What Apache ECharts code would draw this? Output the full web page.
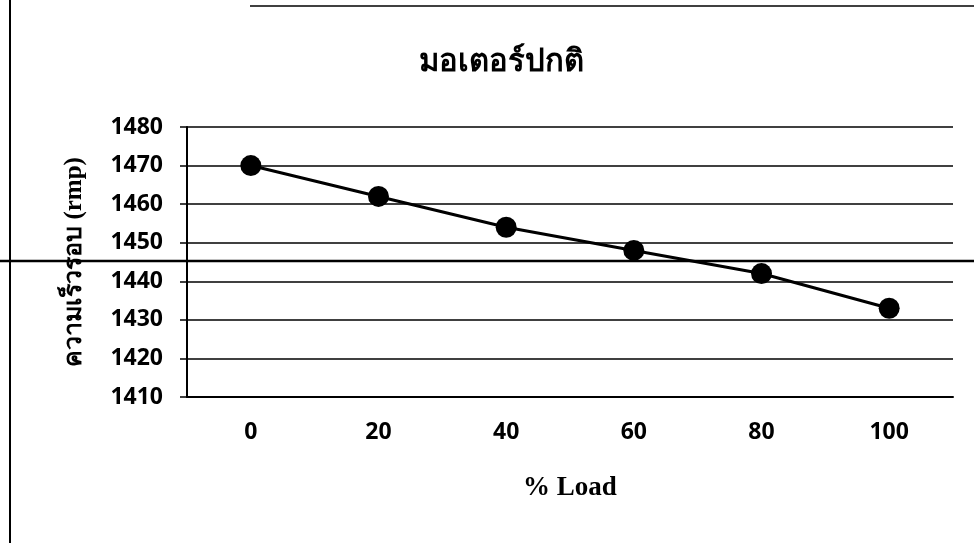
<!DOCTYPE html>
<html>
<head>
<meta charset="utf-8">
<script src="https://cdn.jsdelivr.net/npm/echarts@6/dist/echarts.min.js"></script>
<style>
html,body{margin:0;padding:0;background:#fff;}
#chart{width:974px;height:543px;}
</style>
</head>
<body>
<div id="chart"></div>
<script>
// Motor speed versus load
const loadLevels = ['0', '20', '40', '60', '80', '100'];
const speedRpm = [1470, 1462, 1454, 1448, 1442, 1433];
const yMin = 1410, yMax = 1480, yStep = 10;

const chart = echarts.init(document.getElementById('chart'));
chart.setOption({
  backgroundColor: '#ffffff',
  animation: false,
  title: {
    text: 'มอเตอร์ปกติ',
    left: 496,
    textAlign: 'center',
    top: 42,
    textStyle: {fontFamily: 'serif', fontWeight: 'bold', fontSize: 31, color: '#000'}
  },
  grid: {left: 187, right: 21, top: 127, bottom: 146},
  xAxis: {
    type: 'category',
    data: loadLevels,
    boundaryGap: true,
    name: '% Load',
    nameLocation: 'middle',
    nameGap: 78,
    nameTextStyle: {fontFamily: 'Liberation Serif', fontWeight: 'bold', fontSize: 27, color: '#000'},
    axisLine: {lineStyle: {color: '#000', width: 2}},
    axisTick: {show: false},
    axisLabel: {margin: 24, fontFamily: 'Open Sans', fontWeight: 'bold', fontSize: 23, color: '#000'}
  },
  yAxis: {
    type: 'value',
    min: yMin, max: yMax, interval: yStep,
    name: 'ความเร็วรอบ (rmp)',
    nameLocation: 'middle',
    nameGap: 100,
    nameRotate: 90,
    nameTextStyle: {fontFamily: 'Liberation Serif', fontWeight: 'bold', fontSize: 25, color: '#000'},
    axisLine: {show: true, lineStyle: {color: '#000', width: 2}},
    axisTick: {show: true, length: 7, lineStyle: {color: '#000', width: 1.5}},
    axisLabel: {
      margin: 24, fontFamily: 'Open Sans', fontWeight: 'bold', fontSize: 23, color: '#000',
      formatter: v => String(v)
    },
    splitLine: {lineStyle: {color: '#000', width: 1.5}}
  },
  series: [{
    type: 'line',
    data: speedRpm,
    symbol: 'circle',
    symbolSize: 21,
    lineStyle: {color: '#000', width: 3},
    itemStyle: {color: '#000'}
  }],
  graphic: [
    {type: 'line', shape: {x1: 10, y1: 0, x2: 10, y2: 543}, style: {stroke: '#000', lineWidth: 2}},
    {type: 'line', shape: {x1: 250, y1: 6, x2: 974, y2: 6}, style: {stroke: '#000', lineWidth: 1.5}},
    {type: 'line', shape: {x1: 0, y1: 261, x2: 974, y2: 261}, style: {stroke: '#000', lineWidth: 2.5}}
  ]
});
</script>
</body>
</html>
